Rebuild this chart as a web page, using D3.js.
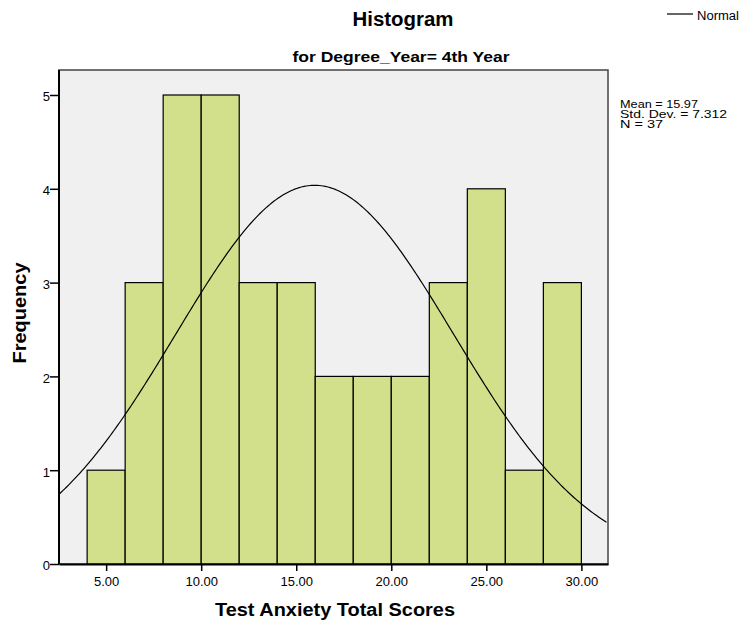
<!DOCTYPE html>
<html lang="en">
<head>
<meta charset="utf-8">
<title>Histogram</title>
<script src="https://d3js.org/d3.v7.min.js"></script>
<style>
    body { margin: 0; background: white; }
    text { font-family: "Liberation Sans", Arial, sans-serif; fill: #000; }
    .axis path, .axis line { stroke: #000; }
</style>
</head>
<body>
<svg width="743" height="628"></svg>
<script>
// Bin edges and counts
const binStarts = [4, 6, 8, 10, 12, 14, 16, 18, 20, 22, 24, 26, 28];
const binWidth = 2;
const counts = [1, 3, 5, 5, 3, 3, 2, 2, 2, 3, 4, 1, 3];
const xTicks = [5, 10, 15, 20, 25, 30];
const yTicks = [0, 1, 2, 3, 4, 5];
const stats = { mean: 15.97, sd: 7.312, n: 37 };
const statLines = ["Mean = 15.97", "Std. Dev. = 7.312", "N = 37"];
const statWidths = [78, 107, 43];

const plotL = 59, plotR = 608, plotT = 70, plotB = 564;

const svg = d3.select('svg');

const x = d3.scaleLinear().domain([2.52, 31.4]).range([plotL, plotR]);
const y = d3.scaleLinear().domain([0, 5]).range([plotB, 95]);

// plot background
svg.append('rect')
    .attr('x', plotL).attr('y', plotT)
    .attr('width', plotR - plotL).attr('height', plotB - plotT)
    .attr('fill', '#f0f0f0')
    .attr('stroke', '#444').attr('stroke-width', 1.5);

// bars
svg.append('g').selectAll('rect')
    .data(binStarts)
    .join('rect')
    .attr('x', (d) => x(d))
    .attr('y', (d, i) => y(counts[i]))
    .attr('width', (d) => x(d + binWidth) - x(d))
    .attr('height', (d, i) => y(0) - y(counts[i]))
    .attr('fill', '#d3e08b')
    .attr('stroke', '#000')
    .attr('stroke-width', 1.2);

// normal curve
svg.append('clipPath').attr('id', 'clip')
    .append('rect')
    .attr('x', plotL).attr('y', plotT)
    .attr('width', plotR - plotL).attr('height', plotB - plotT);

const scale = stats.n * binWidth / (stats.sd * Math.sqrt(2 * Math.PI));
const curvePts = d3.range(2.52, 31.41, 0.1).map((v) => [v, scale * Math.exp(-0.5 * ((v - stats.mean) / stats.sd) ** 2)]);
svg.append('path')
    .datum(curvePts)
    .attr('clip-path', 'url(#clip)')
    .attr('fill', 'none')
    .attr('stroke', '#000')
    .attr('stroke-width', 1.2)
    .attr('d', d3.line().x((d) => x(d[0])).y((d) => y(d[1])));

// axes
const xAxis = svg.append('g')
    .attr('class', 'axis')
    .attr('transform', `translate(0, ${plotB})`)
    .call(d3.axisBottom(x).tickValues(xTicks).tickFormat(d3.format('.2f')).tickSize(7).tickSizeOuter(0));
xAxis.select('.domain').attr('stroke-width', 2);
xAxis.selectAll('line').attr('stroke-width', 1.5);
xAxis.selectAll('text').attr('font-size', 13).attr('y', 10).attr('dy', '0.95em');

const yAxis = svg.append('g')
    .attr('class', 'axis')
    .attr('transform', `translate(${plotL}, 0)`)
    .call(d3.axisLeft(y).tickValues(yTicks).tickFormat(d3.format('d')).tickSize(9).tickSizeOuter(0));
yAxis.select('.domain').attr('d', `M0,${plotT}V${plotB}`).attr('stroke-width', 2);
yAxis.selectAll('line').attr('stroke-width', 1.5);
yAxis.selectAll('text').attr('font-size', 13).attr('x', -9).attr('dy', '0.45em');

// titles
svg.append('text')
    .attr('x', 403).attr('y', 26)
    .attr('text-anchor', 'middle')
    .attr('font-size', 19.5).attr('font-weight', 'bold')
    .attr('textLength', 101).attr('lengthAdjust', 'spacingAndGlyphs')
    .text('Histogram');
svg.append('text')
    .attr('x', 401).attr('y', 62)
    .attr('text-anchor', 'middle')
    .attr('font-size', 15).attr('font-weight', 'bold')
    .attr('textLength', 217).attr('lengthAdjust', 'spacingAndGlyphs')
    .text('for Degree_Year= 4th Year');

svg.append('text')
    .attr('x', 335).attr('y', 616)
    .attr('text-anchor', 'middle')
    .attr('font-size', 18).attr('font-weight', 'bold')
    .attr('textLength', 240).attr('lengthAdjust', 'spacingAndGlyphs')
    .text('Test Anxiety Total Scores');
svg.append('text')
    .attr('transform', `translate(26, 313) rotate(-90)`)
    .attr('text-anchor', 'middle')
    .attr('font-size', 18).attr('font-weight', 'bold')
    .attr('textLength', 101).attr('lengthAdjust', 'spacingAndGlyphs')
    .text('Frequency');

// legend
svg.append('line')
    .attr('x1', 667).attr('x2', 693).attr('y1', 14).attr('y2', 14)
    .attr('stroke', '#000').attr('stroke-width', 1.2);
svg.append('text')
    .attr('x', 697).attr('y', 20)
    .attr('font-size', 12.5)
    .attr('textLength', 42).attr('lengthAdjust', 'spacingAndGlyphs')
    .text('Normal');

// stats box
svg.append('g').selectAll('text')
    .data(statLines)
    .join('text')
    .attr('x', 620)
    .attr('y', (d, i) => 108 + i * 9.8)
    .attr('font-size', 11.5)
    .attr('textLength', (d, i) => statWidths[i]).attr('lengthAdjust', 'spacingAndGlyphs')
    .text((d) => d);
</script>
</body>
</html>
